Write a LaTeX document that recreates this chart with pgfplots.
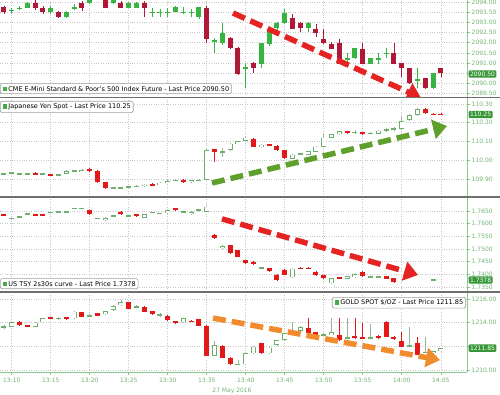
\documentclass[border=0pt]{standalone}
\usepackage{pgfplots}
\pgfplotsset{compat=1.18}
\usepackage{pgfplotstable}
\usepackage{fontspec}
\setmainfont{DejaVu Sans}
\usetikzlibrary{arrows.meta}

\definecolor{redA}{RGB}{175,25,55}
\definecolor{greenA}{RGB}{55,180,65}
\definecolor{redB}{RGB}{225,25,25}
\definecolor{greenB}{RGB}{110,175,110}
\definecolor{wickB}{RGB}{150,180,150}
\definecolor{tickgreen}{RGB}{115,180,115}
\definecolor{axisgreen}{RGB}{140,200,140}
\definecolor{taggreen}{RGB}{55,150,55}
\definecolor{arrowred}{RGB}{230,35,35}
\definecolor{arrowgreen}{RGB}{95,160,45}
\definecolor{arroworange}{RGB}{240,140,45}
\definecolor{sepgray}{RGB}{110,110,110}
\definecolor{legsq}{RGB}{70,170,70}

\newcommand{\tf}{\fontsize{6}{7}\selectfont}
\newcommand{\lf}{\fontsize{6.5}{7}\selectfont}

\pgfplotstableread{
k o h l c
0 2093.74 2093.80 2093.45 2093.52
1 2093.60 2093.72 2093.48 2093.60
2 2093.70 2093.80 2093.62 2093.70
3 2093.74 2094.00 2093.70 2093.97
4 2093.97 2094.15 2093.60 2093.74
5 2093.74 2093.80 2093.45 2093.50
6 2093.50 2093.80 2093.45 2093.74
7 2093.50 2093.55 2093.20 2093.25
8 2093.25 2093.55 2093.20 2093.50
9 2093.74 2093.90 2093.60 2093.74
10 2093.97 2094.05 2093.55 2093.74
11 2093.97 2094.20 2093.90 2094.15
12 2094.20 2094.40 2094.15 2094.35
13 2094.20 2094.30 2093.70 2093.74
14 2093.97 2094.20 2093.90 2094.15
15 2093.97 2094.05 2093.70 2093.74
16 2093.74 2094.00 2093.70 2093.97
17 2093.74 2094.00 2093.70 2093.97
18 2093.97 2094.05 2093.28 2093.74
19 2093.52 2093.74 2093.28 2093.52
20 2093.52 2093.65 2093.28 2093.52
21 2093.52 2093.74 2093.28 2093.52
22 2093.52 2093.80 2093.50 2093.74
23 2093.52 2093.78 2093.40 2093.52
24 2093.52 2093.65 2093.28 2093.52
25 2093.25 2093.78 2093.20 2093.74
26 2093.74 2093.78 2091.98 2092.22
27 2092.10 2092.24 2091.50 2092.10
28 2091.98 2092.99 2091.90 2092.47
29 2092.22 2092.28 2091.70 2091.75
30 2091.73 2091.78 2090.45 2090.47
31 2090.76 2091.00 2089.78 2090.76
32 2090.99 2091.05 2090.50 2090.75
33 2090.99 2092.00 2090.75 2091.98
34 2091.98 2092.75 2091.85 2092.71
35 2092.71 2093.02 2092.65 2092.99
36 2092.99 2093.69 2092.95 2093.48
37 2093.25 2093.40 2092.68 2092.71
38 2092.99 2093.02 2092.55 2092.71
39 2092.71 2093.02 2092.55 2092.99
40 2092.71 2092.95 2092.30 2092.47
41 2092.22 2092.71 2091.95 2091.98
42 2091.98 2092.02 2091.70 2091.73
43 2091.98 2092.20 2090.95 2090.99
44 2091.24 2091.49 2090.99 2091.24
45 2091.24 2091.76 2091.20 2091.73
46 2091.73 2091.98 2090.95 2090.99
47 2090.99 2091.27 2090.95 2091.24
48 2091.24 2091.49 2090.99 2091.24
49 2091.49 2091.73 2091.24 2091.49
50 2091.49 2091.98 2090.95 2090.99
51 2090.99 2091.02 2090.35 2090.75
52 2090.75 2090.78 2089.98 2090.01
53 2090.18 2090.75 2089.77 2090.18
54 2090.26 2090.30 2089.74 2089.77
55 2089.77 2090.53 2089.74 2090.50
56 2090.75 2090.80 2090.35 2090.50
}\spx

\pgfplotstableread{
k o h l c
0 109.931 109.936 109.926 109.931
1 109.931 109.940 109.928 109.937
2 109.931 109.936 109.926 109.931
3 109.931 109.936 109.926 109.931
4 109.937 109.940 109.923 109.926
5 109.930 109.935 109.925 109.930
6 109.926 109.929 109.917 109.920
7 109.920 109.929 109.917 109.926
8 109.931 109.948 109.928 109.945
9 109.945 109.950 109.940 109.945
10 109.940 109.953 109.937 109.950
11 109.958 109.961 109.941 109.944
12 109.944 109.947 109.881 109.884
13 109.884 109.887 109.849 109.852
14 109.855 109.860 109.850 109.855
15 109.857 109.862 109.852 109.857
16 109.860 109.865 109.855 109.860
17 109.860 109.868 109.857 109.865
18 109.865 109.876 109.862 109.873
19 109.875 109.878 109.865 109.868
20 109.872 109.885 109.869 109.882
21 109.882 109.896 109.879 109.893
22 109.895 109.900 109.890 109.895
23 109.900 109.903 109.884 109.887
24 109.887 109.900 109.884 109.897
25 109.896 109.901 109.891 109.896
26 109.900 110.060 109.895 110.055
27 110.059 110.062 109.993 110.046
28 110.046 110.065 110.020 110.046
29 110.055 110.093 110.050 110.090
30 110.090 110.106 110.087 110.103
31 110.103 110.124 110.100 110.121
32 110.117 110.120 110.070 110.073
33 110.073 110.089 110.070 110.086
34 110.086 110.089 110.077 110.080
35 110.078 110.081 110.052 110.055
36 110.055 110.058 110.008 110.011
37 110.011 110.035 110.008 110.032
38 110.035 110.040 110.030 110.035
39 110.032 110.053 110.029 110.050
40 110.046 110.076 110.043 110.073
41 110.073 110.139 110.070 110.121
42 110.121 110.142 110.118 110.139
43 110.139 110.159 110.136 110.156
44 110.156 110.159 110.144 110.147
45 110.150 110.160 110.140 110.150
46 110.149 110.152 110.136 110.139
47 110.145 110.150 110.140 110.145
48 110.142 110.162 110.139 110.159
49 110.163 110.172 110.155 110.163
50 110.168 110.178 110.158 110.168
51 110.167 110.235 110.164 110.210
52 110.215 110.244 110.212 110.241
53 110.241 110.276 110.238 110.273
54 110.273 110.276 110.247 110.250
55 110.250 110.253 110.242 110.245
56 110.250 110.253 110.242 110.245
}\jpy

\pgfplotstableread{
k o h l c
0 1.7638 1.7640 1.7630 1.7632
1 1.7621 1.7623 1.7619 1.7621
2 1.7628 1.7630 1.7626 1.7628
3 1.7638 1.7640 1.7636 1.7638
4 1.7638 1.7640 1.7630 1.7632
5 1.7638 1.7640 1.7630 1.7632
6 1.7645 1.7647 1.7643 1.7645
7 1.7647 1.7649 1.7645 1.7647
8 1.7647 1.7649 1.7645 1.7647
9 1.7660 1.7662 1.7658 1.7660
10 1.7660 1.7662 1.7658 1.7660
11 1.7654 1.7656 1.7636 1.7638
12 1.7621 1.7623 1.7619 1.7621
13 1.7614 1.7625 1.7612 1.7623
14 1.7632 1.7634 1.7630 1.7632
15 1.7647 1.7649 1.7636 1.7638
16 1.7632 1.7634 1.7630 1.7632
17 1.7638 1.7640 1.7628 1.7630
18 1.7624 1.7639 1.7622 1.7637
19 1.7645 1.7647 1.7643 1.7645
20 1.7641 1.7643 1.7639 1.7641
21 1.7641 1.7656 1.7639 1.7654
22 1.7660 1.7662 1.7652 1.7654
23 1.7647 1.7649 1.7645 1.7647
24 1.7638 1.7649 1.7636 1.7647
25 1.7654 1.7656 1.7652 1.7654
26 1.7647 1.7669 1.7645 1.7667
27 1.7556 1.7558 1.7540 1.7542
28 1.7503 1.7515 1.7501 1.7513
29 1.7516 1.7518 1.7481 1.7483
30 1.7496 1.7498 1.7468 1.7470
31 1.7457 1.7459 1.7442 1.7444
32 1.7450 1.7452 1.7438 1.7440
33 1.7427 1.7429 1.7425 1.7427
34 1.7424 1.7426 1.7411 1.7413
35 1.7400 1.7402 1.7376 1.7378
36 1.7419 1.7421 1.7398 1.7400
37 1.7389 1.7425 1.7387 1.7423
38 1.7427 1.7429 1.7421 1.7423
39 1.7427 1.7429 1.7421 1.7423
40 1.7411 1.7413 1.7396 1.7398
41 1.7398 1.7400 1.7383 1.7385
42 1.7365 1.7387 1.7363 1.7385
43 1.7389 1.7391 1.7381 1.7383
44 1.7383 1.7396 1.7381 1.7394
45 1.7390 1.7404 1.7388 1.7402
46 1.7411 1.7413 1.7392 1.7394
47 1.7391 1.7393 1.7389 1.7391
48 1.7389 1.7396 1.7387 1.7394
49 1.7394 1.7396 1.7381 1.7383
50 1.7385 1.7387 1.7367 1.7369
55 1.7378 1.7380 1.7376 1.7378
}\tsy

\pgfplotstableread{
k o h l c
0 1213.66 1213.80 1213.50 1213.66
1 1213.66 1214.08 1213.62 1214.03
2 1214.08 1214.12 1213.76 1213.80
3 1213.80 1213.84 1213.62 1213.66
4 1213.66 1214.04 1213.62 1214.00
5 1214.03 1214.41 1213.99 1214.37
6 1214.45 1214.49 1214.33 1214.37
7 1214.37 1214.50 1214.25 1214.37
8 1214.45 1214.49 1214.27 1214.31
9 1214.37 1214.97 1214.33 1214.93
10 1214.88 1214.92 1214.46 1214.50
11 1214.60 1214.75 1214.45 1214.60
12 1214.80 1214.84 1214.56 1214.60
13 1214.71 1215.03 1214.67 1214.99
14 1215.07 1215.48 1215.03 1215.44
15 1215.49 1215.92 1215.45 1215.72
16 1215.72 1215.76 1215.17 1215.21
17 1215.35 1215.50 1215.20 1215.35
18 1215.35 1215.39 1214.89 1214.93
19 1214.99 1215.03 1214.67 1214.71
20 1214.65 1214.80 1214.50 1214.65
21 1214.60 1214.64 1214.18 1214.22
22 1214.14 1214.18 1213.90 1213.94
23 1214.03 1214.41 1213.99 1214.37
24 1214.17 1214.21 1214.04 1214.08
25 1214.31 1214.35 1213.71 1213.75
26 1213.75 1213.79 1211.17 1211.21
27 1211.21 1212.45 1211.17 1212.11
28 1212.05 1212.09 1211.00 1211.04
29 1211.04 1211.08 1210.44 1210.48
30 1210.48 1210.85 1210.44 1210.48
31 1210.48 1211.45 1210.44 1211.41
32 1211.41 1212.01 1211.37 1211.97
33 1212.26 1212.30 1211.37 1211.41
34 1211.41 1211.93 1211.37 1211.89
35 1212.11 1212.57 1212.07 1212.53
36 1212.53 1213.14 1212.49 1213.10
37 1213.24 1214.08 1213.20 1213.24
38 1213.30 1213.70 1213.26 1213.66
39 1213.58 1214.37 1213.06 1213.10
40 1213.18 1213.22 1212.78 1212.82
41 1212.96 1213.10 1212.85 1212.96
42 1212.96 1214.37 1212.92 1213.18
43 1212.96 1214.37 1212.49 1212.53
44 1212.73 1214.37 1212.69 1212.73
45 1212.90 1214.37 1212.64 1212.68
46 1212.75 1213.94 1212.68 1212.72
47 1212.73 1213.86 1212.69 1212.73
48 1212.90 1212.94 1212.64 1212.68
49 1214.08 1214.12 1212.78 1212.82
50 1212.82 1212.86 1212.58 1212.62
51 1212.45 1213.24 1211.93 1211.97
52 1212.05 1213.66 1212.01 1212.05
53 1212.26 1212.82 1211.23 1211.27
54 1211.50 1212.82 1211.46 1211.50
55 1211.41 1211.64 1211.37 1211.60
56 1211.60 1211.89 1211.56 1211.85
}\gold

\pgfplotsset{
  panel/.style={
    scale only axis, width=467pt, xmin=8.49, xmax=68.36,
    axis x line*=bottom, axis y line*=right,
    x axis line style={draw=none,-},
    y axis line style={draw=axisgreen, line width=0.7pt,-},
    xtick={10,15,...,65}, xticklabels={}, xtick style={draw=none},
    ytick style={draw=axisgreen, line width=0.6pt},
    tick align=outside, major tick length=3pt,
    xmajorgrids, ymajorgrids,
    major grid style={draw=gray!45, dotted, line width=0.6pt},
    yticklabel style={font=\tf, text=tickgreen, inner sep=1.5pt},
    xticklabel style={font=\tf, text=tickgreen},
    /pgf/number format/assume math mode=true,
    scaled y ticks=false,
    y tick label style={/pgf/number format/fixed, /pgf/number format/fixed zerofill, /pgf/number format/1000 sep={}},
  },
  ebar/.style 2 args={draw=none, mark=none, fill=none, forget plot,
    error bars/y dir=both, error bars/y explicit,
    error bars/error mark=none,
    error bars/error bar style={line width=#2, draw=#1, line cap=butt, solid}},
  arr/.style={line width=5.5pt, dash pattern=on 13pt off 6pt, forget plot,
    -{Triangle[length=14pt,width=19pt]}},
}
\tikzset{
  tag/.style={fill=taggreen, text=white, font=\tf, inner sep=1.4pt, rounded corners=1pt, anchor=west, xshift=1.5pt},
  leg/.style={draw=gray!75, fill=white, rounded corners=1.5pt, font=\lf, inner xsep=2.5pt, inner ysep=2.5pt, line width=0.6pt},
}

% wicks: table, up colour, down colour
\newcommand{\wicks}[3]{%
  \addplot[ebar={#2}{0.6pt}, restrict expr to domain={\thisrow{c}-\thisrow{o}}{0:100000}]
    table[x expr=\thisrow{k}+9, y expr=(\thisrow{h}+\thisrow{l})/2, y error expr=(\thisrow{h}-\thisrow{l})/2]{#1};
  \addplot[ebar={#3}{0.6pt}, restrict expr to domain={\thisrow{c}-\thisrow{o}}{-100000:-0.00000001}]
    table[x expr=\thisrow{k}+9, y expr=(\thisrow{h}+\thisrow{l})/2, y error expr=(\thisrow{h}-\thisrow{l})/2]{#1};
}
% bodies: table, colour, width, minimal half height, domain of c-o
\newcommand{\bodies}[5]{%
  \addplot[ebar={#2}{#3}, restrict expr to domain={\thisrow{c}-\thisrow{o}}{#5}]
    table[x expr=\thisrow{k}+9, y expr=(\thisrow{o}+\thisrow{c})/2, y error expr={max(abs(\thisrow{c}-\thisrow{o})/2,#4)}]{#1};
}
% hollow interior: table, offset
\newcommand{\hollow}[2]{%
  \addplot[ebar={white}{3.6pt}, restrict expr to domain={\thisrow{c}-\thisrow{o}-2*#2}{0.00000001:100000}]
    table[x expr=\thisrow{k}+9, y expr=(\thisrow{o}+\thisrow{c})/2, y error expr={abs(\thisrow{c}-\thisrow{o})/2-#2}]{#1};
}

\begin{document}
\begin{tikzpicture}
\path[use as bounding box] (0pt,0pt) rectangle (500pt,-395pt);

% ---------- Panel 1: S&P future
\begin{axis}[panel, at={(0pt,0pt)}, anchor=north west, height=97pt,
  ymin=2089.343, ymax=2094.098, ytick={2089.5,2090,...,2094},
  yticklabels={2089.50,2090.00,{},2091.00,2091.50,2092.00,2092.50,2093.00,2093.50,2094.00}]
  \wicks{\spx}{greenA}{redA}
  \bodies{\spx}{greenA}{5pt}{0.03}{0:100000}
  \bodies{\spx}{redA}{5pt}{0.03}{-100000:-0.00000001}
  \addplot[arr, arrowred] coordinates {(38.36,2093.46) (62.46,2089.30)};
  \coordinate (t1) at (axis cs:68.36,2090.47);
\end{axis}

% ---------- Panel 2: Yen
\begin{axis}[panel, at={(0pt,-98.5pt)}, anchor=north west, height=97.5pt,
  ymin=109.811, ymax=110.329, ytick={109.9,110.0,110.1,110.2,110.3},
  y tick label style={/pgf/number format/precision=2}]
  \wicks{\jpy}{wickB}{redB}
  \bodies{\jpy}{redB}{5pt}{0.0032}{-100000:-0.00000001}
  \bodies{\jpy}{greenB}{5pt}{0.0032}{0:100000}
  \hollow{\jpy}{0.0037}
  \addplot[arr, arrowgreen] coordinates {(35.67,109.88) (65.8,110.183)};
  \coordinate (t2) at (axis cs:68.36,110.244);
\end{axis}

% ---------- Panel 3: 2s30s
\begin{axis}[panel, at={(0pt,-198pt)}, anchor=north west, height=93pt,
  ymin=1.7335, ymax=1.77012, ytick={1.735,1.74,...,1.766},
  y tick label style={/pgf/number format/precision=4}]
  \wicks{\tsy}{wickB}{redB}
  \bodies{\tsy}{redB}{5pt}{0.00024}{-100000:-0.00000001}
  \bodies{\tsy}{greenB}{5pt}{0.00024}{0:100000}
  \hollow{\tsy}{0.00028}
  \addplot[arr, arrowred] coordinates {(36.95,1.7619) (62.08,1.7398)};
  \coordinate (t3) at (axis cs:68.36,1.73783);
\end{axis}

% ---------- Panel 4: Gold
\begin{axis}[panel, at={(0pt,-293pt)}, anchor=north west, height=79pt,
  ymin=1209.829, ymax=1216.507, ytick={1210,1212,1214,1216},
  yticklabels={1210.00,{},1214.00,1216.00},
  x axis line style={draw=axisgreen, line width=0.7pt},
  xtick style={draw=axisgreen, line width=0.6pt},
  xticklabels={13:10,13:15,13:20,13:25,13:30,13:35,13:40,13:45,13:50,13:55,14:00,14:05}]
  \wicks{\gold}{wickB}{redB}
  \bodies{\gold}{redB}{5pt}{0.05}{-100000:-0.00000001}
  \bodies{\gold}{greenB}{5pt}{0.05}{0:100000}
  \hollow{\gold}{0.06}
  \addplot[arr, arroworange] coordinates {(35.8,1214.39) (64.9,1210.84)};
  \coordinate (t4) at (axis cs:68.36,1211.85);
\end{axis}

% separators
\draw[sepgray, line width=1.6pt] (0pt,-97.6pt) -- (500pt,-97.6pt);
\draw[sepgray, line width=1.6pt] (0pt,-197pt) -- (500pt,-197pt);
\draw[sepgray, line width=1.6pt] (0pt,-292pt) -- (500pt,-292pt);

% last price tags
\node[tag] at (t1) {2090.50};
\node[tag] at (t2) {110.25};
\node[tag] at (t3) {1.7378};
\node[tag] at (t4) {1211.85};

% legends
\node[leg, anchor=south west] at (0pt,-94pt) {\textcolor{legsq}{\rule{4.5pt}{4.5pt}}\,CME E-Mini Standard \& Poor's 500 Index Future - Last Price 2090.50};
\node[leg, anchor=north west] at (0pt,-101pt) {\textcolor{legsq}{\rule{4.5pt}{4.5pt}}\,Japanese Yen Spot - Last Price 110.25};
\node[leg, anchor=south west] at (0pt,-289pt) {\textcolor{legsq}{\rule{4.5pt}{4.5pt}}\,US TSY 2s30s curve - Last Price 1.7378};
\node[leg, anchor=north east] at (466pt,-297pt) {\textcolor{legsq}{\rule{4.5pt}{4.5pt}}\,GOLD SPOT \$/OZ - Last Price 1211.85};

% date
\node[font=\tf, text=tickgreen] at (232pt,-391pt) {27 May 2016};
\end{tikzpicture}
\end{document}
